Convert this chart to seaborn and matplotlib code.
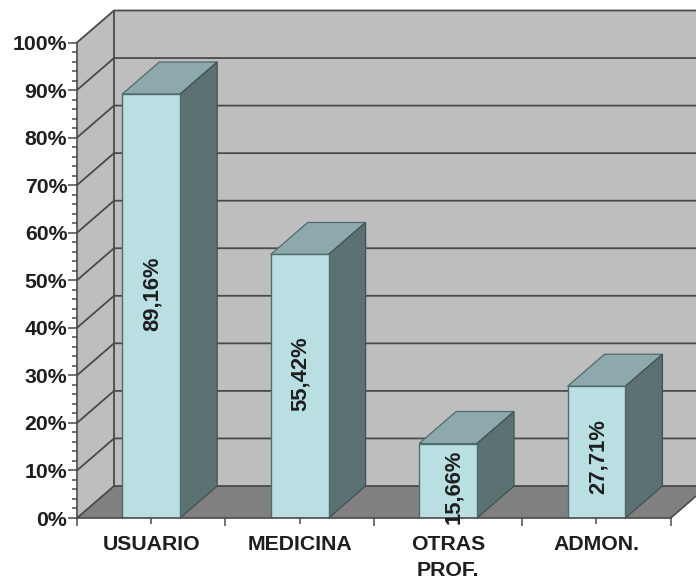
import matplotlib
matplotlib.use("Agg")
import matplotlib.pyplot as plt
import numpy as np
import pandas as pd
import seaborn as sns
from matplotlib.patches import Polygon
from matplotlib.ticker import MultipleLocator

categories = ["USUARIO", "MEDICINA", "OTRAS\nPROF.", "ADMON."]
values = [89.16, 55.42, 15.66, 27.71]
value_labels = ["89,16%", "55,42%", "15,66%", "27,71%"]

# Where each rotated value label sits: percent height and sideways nudge in category units
label_levels = [47.1, 30.3, 6.5, 13.0]
label_nudges = [0.01, 0.005, 0.035, 0.015]

sns.set_theme(style="white")
plt.rcParams["font.family"] = ["Liberation Sans", "DejaVu Sans"]

FRONT = "#B9DFE3"
TOP = "#8DA9AC"
SIDE = "#5B7172"
WALL = "#BEBEBE"
FLOOR = "#808080"
LINE = "#4A4A4A"
TEXT = "#1E1E1E"
BAR_WIDTH = 0.39
LABEL_SIZE = 15.3

W, H = 696, 582
fig = plt.figure(figsize=(W / 100, H / 100), dpi=100, facecolor="white")
left, right, y0, y100 = 77, 670.7, 518, 42.5
ax = fig.add_axes([left / W, (H - y0) / H, (right - left) / W, (y0 - y100) / H])
ax.patch.set_visible(False)

# Oblique depth of the fake 3D box, in data units
dx = 37 / ((right - left) / 4)
dy = 32 / ((y0 - y100) / 100)
x_lo, x_hi = -0.5, 3.5


def face(points, color, z, edge=None, lw=0.0):
    ax.add_patch(Polygon(points, closed=True, facecolor=color, edgecolor=edge or color,
                         linewidth=lw, zorder=z, clip_on=False))


# Walls and floor
face([(x_lo + dx, dy), (x_hi + dx, dy), (x_hi + dx, 100 + dy), (x_lo + dx, 100 + dy)], WALL, 0.1)
face([(x_lo, 0), (x_lo + dx, dy), (x_lo + dx, 100 + dy), (x_lo, 100)], WALL, 0.1)
face([(x_lo, 0), (x_hi, 0), (x_hi + dx, dy), (x_lo + dx, dy)], FLOOR, 0.2)

# Gridlines running along the side wall and the back wall
for level in np.arange(0, 101, 10):
    ax.plot([x_lo, x_lo + dx, x_hi + dx], [level, level + dy, level + dy],
            color=LINE, lw=1.3, zorder=0.5, clip_on=False, solid_joinstyle="miter")
ax.plot([x_lo + dx, x_lo + dx], [dy, 100 + dy], color=LINE, lw=1.3, zorder=0.5, clip_on=False)
ax.plot([x_hi, x_hi + dx], [0, dy], color=LINE, lw=1.2, zorder=0.5, clip_on=False)

# Front faces of the columns
data = pd.DataFrame({"categoria": categories, "porcentaje": values})
sns.barplot(data=data, x="categoria", y="porcentaje", order=categories, color=FRONT,
            saturation=1, width=BAR_WIDTH, edgecolor="#4F6B6C", linewidth=1.0, zorder=3, ax=ax)

# Top and side faces of each column
half = BAR_WIDTH / 2
for i, v in enumerate(values):
    xa, xb = i - half, i + half
    face([(xa, v), (xb, v), (xb + dx, v + dy), (xa + dx, v + dy)], TOP, 2, "#4F6B6C", 0.9)
    face([(xb, 0), (xb + dx, dy), (xb + dx, v + dy), (xb, v)], SIDE, 2, "#3F5253", 0.9)

# Value labels inside the columns
for i, (txt, lev, nudge) in enumerate(zip(value_labels, label_levels, label_nudges)):
    ax.text(i + nudge, lev, txt, rotation=90, ha="center", va="center", fontsize=15.8,
            fontweight="bold", color=TEXT, zorder=6, clip_on=False)

ax.set_xlim(x_lo, x_hi)
ax.set_ylim(0, 100)
ax.set_xlabel("")
ax.set_ylabel("")
sns.despine(ax=ax, top=True, right=True)
for side in ("left", "bottom"):
    ax.spines[side].set_color(LINE)
    ax.spines[side].set_linewidth(1.2)
    ax.spines[side].set_zorder(4)

ax.yaxis.set_major_locator(MultipleLocator(10))
ax.yaxis.set_minor_locator(MultipleLocator(2))
ax.set_yticks(np.arange(0, 101, 10), [f"{t}%" for t in range(0, 101, 10)])
ax.set_xticks(range(len(categories)), categories, linespacing=1.5)
ax.set_xticks(np.arange(x_lo, x_hi + 0.1, 1), minor=True)
ax.tick_params(axis="y", which="major", left=True, length=6.5, width=1.1, color=LINE, pad=0.5,
               labelsize=LABEL_SIZE, labelcolor=TEXT)
ax.tick_params(axis="y", which="minor", left=True, length=3.6, width=1.1, color=LINE)
ax.tick_params(axis="x", which="major", bottom=True, length=4, width=1.1, color=LINE, pad=8,
               labelsize=LABEL_SIZE, labelcolor=TEXT)
ax.tick_params(axis="x", which="minor", bottom=True, length=6, width=1.1, color=LINE)
for lab in ax.get_xticklabels() + ax.get_yticklabels():
    lab.set_fontweight("bold")

fig.savefig("out.png", dpi=100, facecolor="white")
